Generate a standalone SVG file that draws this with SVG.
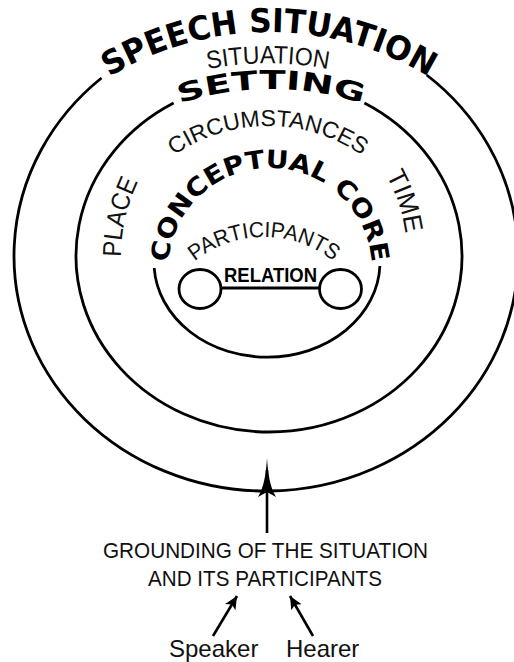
<svg xmlns="http://www.w3.org/2000/svg" width="514" height="662" viewBox="0 0 514 662">
  <defs>
    <style>
      .ring { fill: none; stroke: #000; stroke-width: 2.8; }
      .reg { font-family: "Liberation Sans", Arial, sans-serif; fill: #111; }
      .heavy { font-family: "DejaVu Sans", "Liberation Sans", sans-serif; font-weight: bold; fill: #000; }
      .rel { font-family: "Liberation Sans", Arial, sans-serif; font-weight: bold; fill: #000; }
      .conn { fill: none; stroke: #000; stroke-width: 2.6; }
    </style>
    <path id="pSpeech" d="M -38 339 A 307 307 0 0 1 576 339"/>
    <path id="pSituation" d="M 190 73 A 320 320 0 0 1 346 73"/>
    <path id="pSetting" d="M -25 385 A 296 296 0 0 1 567 385"/>
    <path id="pCirc" d="M 103 291 A 165 165 0 0 1 433 291"/>
    <path id="pPlace" d="M 121 257 A 170 170 0 0 1 141 176"/>
    <path id="pTime" d="M 386 175 A 165 165 0 0 1 406 238"/>
    <path id="pCore" d="M 168 270 A 102 102 0 0 1 372 270"/>
    <path id="pPart" d="M 153 348 A 111 111 0 0 1 375 348"/>
    <marker id="ah" markerUnits="userSpaceOnUse" markerWidth="16" markerHeight="14" refX="13" refY="6" orient="auto">
      <path d="M0,0 L13,6 L0,12 L3,6 Z" fill="#000"/>
    </marker>
  </defs>
  <rect width="514" height="662" fill="#fff"/>

  <g id="speech-situation">
    <path class="ring" d="M 101.5 78 A 252 235 0 1 0 426.7 75"/>
    <text class="heavy" font-size="33"><textPath href="#pSpeech" startOffset="50%" text-anchor="middle" textLength="336" lengthAdjust="spacingAndGlyphs">SPEECH SITUATION</textPath></text>
    <text class="reg" font-size="25"><textPath href="#pSituation" startOffset="50%" text-anchor="middle" textLength="121" lengthAdjust="spacingAndGlyphs">SITUATION</textPath></text>
  </g>

  <g id="setting">
    <path class="ring" d="M 173.6 103 A 193 176 0 1 0 364.4 103"/>
    <text class="heavy" font-size="26"><textPath href="#pSetting" startOffset="50%" text-anchor="middle" textLength="186" lengthAdjust="spacingAndGlyphs">SETTING</textPath></text>
    <text class="reg" font-size="23"><textPath href="#pCirc" startOffset="50%" text-anchor="middle" textLength="200" lengthAdjust="spacingAndGlyphs">CIRCUMSTANCES</textPath></text>
    <text class="reg" font-size="26"><textPath href="#pPlace" startOffset="0" textLength="78" lengthAdjust="spacingAndGlyphs">PLACE</textPath></text>
    <text class="reg" font-size="26"><textPath href="#pTime" startOffset="0" textLength="62" lengthAdjust="spacingAndGlyphs">TIME</textPath></text>
  </g>

  <g id="conceptual-core">
    <path class="ring" d="M 154.2 268 A 113 95 0 0 0 379.9 266"/>
    <text class="heavy" font-size="25"><textPath href="#pCore" startOffset="50%" text-anchor="middle" textLength="305" lengthAdjust="spacingAndGlyphs">CONCEPTUAL CORE</textPath></text>
    <text class="reg" font-size="22"><textPath href="#pPart" startOffset="50%" text-anchor="middle" textLength="150" lengthAdjust="spacingAndGlyphs">PARTICIPANTS</textPath></text>
  </g>

  <g id="relation">
    <ellipse class="ring" cx="200" cy="289" rx="21" ry="19.5"/>
    <ellipse class="ring" cx="340.5" cy="289" rx="21" ry="19.5"/>
    <line class="ring" x1="221" y1="288" x2="319.5" y2="288"/>
    <text class="rel" font-size="21" x="270.5" y="282" text-anchor="middle" textLength="93" lengthAdjust="spacingAndGlyphs">RELATION</text>
  </g>

  <g id="grounding">
    <text class="reg" font-size="22.5" x="265.5" y="558" text-anchor="middle" textLength="325" lengthAdjust="spacingAndGlyphs">GROUNDING OF THE SITUATION</text>
    <text class="reg" font-size="22.5" x="265" y="586" text-anchor="middle" textLength="234" lengthAdjust="spacingAndGlyphs">AND ITS PARTICIPANTS</text>
  </g>

  <g id="speaker">
    <text class="reg" font-size="24" x="169" y="657">Speaker</text>
  </g>
  <g id="hearer">
    <text class="reg" font-size="24" x="286" y="657">Hearer</text>
  </g>

  <g id="connectors">
    <line class="conn" x1="267" y1="533" x2="267" y2="470"/>
    <path d="M 267 458 C 268 474, 270 487, 276 497 L 267 492 L 258 497 C 264 487, 266 474, 267 458 Z" fill="#000"/>
    <line class="conn" x1="213" y1="636" x2="237" y2="596" marker-end="url(#ah)"/>
    <line class="conn" x1="313" y1="636" x2="290" y2="596" marker-end="url(#ah)"/>
  </g>
</svg>
